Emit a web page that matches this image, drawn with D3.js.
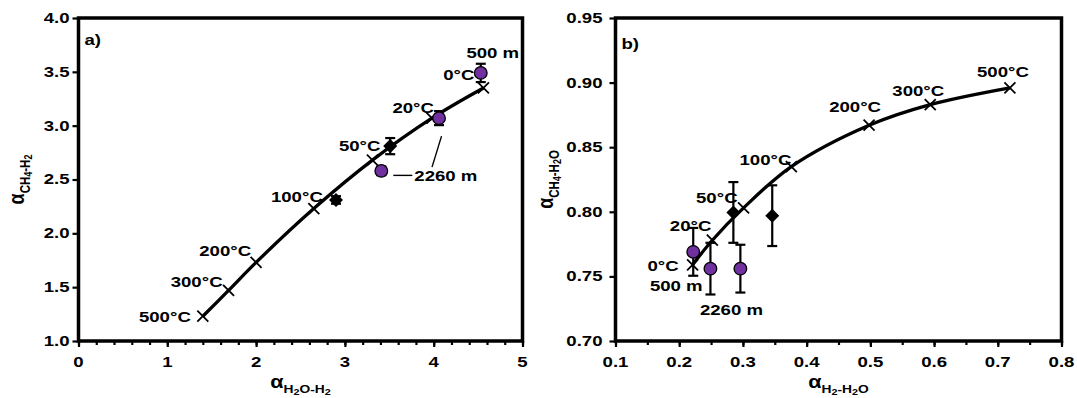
<!DOCTYPE html>
<html>
<head>
<meta charset="utf-8">
<script src="https://cdn.jsdelivr.net/npm/d3@7"></script>
<style>
  html, body { margin: 0; padding: 0; background: #fff; }
  svg text { font-family: "Liberation Sans", Arial, sans-serif; font-weight: bold; fill: #000; }
</style>
</head>
<body>
<svg id="chart" width="1077" height="398"></svg>
<script>
// ---------- DATA ----------
const temps = ["0°C", "20°C", "50°C", "100°C", "200°C", "300°C", "500°C"];

// Panel a) alpha(H2O-H2) vs alpha(CH4-H2) equilibrium curve
const curveA_x = [4.56, 3.98, 3.31, 2.65, 2.00, 1.69, 1.40];
const curveA_y = [3.35, 3.07, 2.68, 2.23, 1.73, 1.47, 1.23];
// measured samples (purple circles) and diamonds
const sampA_x = [4.53, 4.06, 3.41];
const sampA_y = [3.49, 3.07, 2.58];
const sampA_err = [0.085, 0.065, 0.04];
const diaA_x = [3.51, 2.90];
const diaA_y = [2.81, 2.31];
const diaA_err = [0.075, 0.035];
const xTicksA = [0, 1, 2, 3, 4, 5];
const yTicksA = [1.0, 1.5, 2.0, 2.5, 3.0, 3.5, 4.0];

// Panel b) alpha(H2-H2O) vs alpha(CH4-H2O)
const curveB_x = [0.221, 0.252, 0.301, 0.376, 0.498, 0.594, 0.719];
const curveB_y = [0.759, 0.778, 0.803, 0.835, 0.867, 0.883, 0.896];
const sampB_x = [0.222, 0.249, 0.296];
const sampB_y = [0.769, 0.756, 0.756];
const sampB_err = [0.0185, 0.020, 0.0185];
const diaB_x = [0.285, 0.346];
const diaB_y = [0.7995, 0.797];
const diaB_err = [0.0235, 0.0235];
const xTicksB = [0.1, 0.2, 0.3, 0.4, 0.5, 0.6, 0.7, 0.8];
const yTicksB = [0.70, 0.75, 0.80, 0.85, 0.90, 0.95];

// ---------- DRAWING ----------
const svg = d3.select("#chart");
const PURPLE = "#7030A0";
const FS = "15.5px";
const SX = 1.2; // horizontal text stretch seen in the reference

function txt(g, x, y, s, anchor, size) {
  return g.append("text")
    .attr("transform", `translate(${x},${y}) scale(${SX},1)`)
    .attr("text-anchor", anchor || "middle")
    .attr("dominant-baseline", "central")
    .style("font-size", size || FS)
    .text(s);
}

function panel(cfg) {
  const g = svg.append("g");
  const x = d3.scaleLinear().domain(cfg.xDomain).range([cfg.left, cfg.right]);
  const y = d3.scaleLinear().domain(cfg.yDomain).range([cfg.bottom, cfg.top]);

  const xAxis = d3.axisBottom(x).tickValues(cfg.xTicks).tickFormat("").tickSize(6).tickSizeOuter(0);
  const xMinor = d3.axisBottom(x).tickValues(cfg.xMinor).tickFormat("").tickSize(4).tickSizeOuter(0);
  const yAxis = d3.axisLeft(y).tickValues(cfg.yTicks).tickFormat("").tickSize(6).tickSizeOuter(0);

  const gxm = g.append("g").attr("transform", `translate(0,${cfg.bottom})`).call(xMinor);
  const gx = g.append("g").attr("transform", `translate(0,${cfg.bottom})`).call(xAxis);
  const gy = g.append("g").attr("transform", `translate(${cfg.left},0)`).call(yAxis);
  [gx, gy, gxm].forEach(a => {
    a.select(".domain").remove();
    a.selectAll(".tick line").attr("stroke", "#000").attr("stroke-width", 2.2);
  });
  // tick labels
  cfg.xTicks.forEach(v => txt(g, x(v), cfg.bottom + 21, cfg.xFmt(v), "middle"));
  cfg.yTicks.forEach(v => txt(g, cfg.left - cfg.yPad, y(v), cfg.yFmt(v), "end"));

  g.append("rect")
    .attr("x", cfg.left).attr("y", cfg.top)
    .attr("width", cfg.right - cfg.left).attr("height", cfg.bottom - cfg.top)
    .attr("fill", "none").attr("stroke", "#000").attr("stroke-width", 3.5);

  const pts = cfg.cx.map((v, i) => [x(v), y(cfg.cy[i])]);
  g.append("path")
    .attr("d", d3.line().curve(d3.curveCatmullRom.alpha(0.5))(pts))
    .attr("fill", "none").attr("stroke", "#000").attr("stroke-width", 3.3);

  const m = 5.5;
  pts.forEach(p => {
    g.append("path")
      .attr("d", `M${p[0]-m},${p[1]-m}L${p[0]+m},${p[1]+m}M${p[0]-m},${p[1]+m}L${p[0]+m},${p[1]-m}`)
      .attr("stroke", "#000").attr("stroke-width", 1.8).attr("fill", "none");
  });

  temps.forEach((t, i) => {
    const o = cfg.tOff[i];
    txt(g, pts[i][0] + o[0], pts[i][1] + o[1], t, o[2]);
  });

  function errBar(xv, yv, e) {
    const X = x(xv), y1 = y(yv - e), y2 = y(yv + e);
    g.append("line").attr("x1", X).attr("x2", X).attr("y1", y1).attr("y2", y2)
      .attr("stroke", "#000").attr("stroke-width", 2.2);
    [y1, y2].forEach(yy => g.append("line").attr("x1", X - 5).attr("x2", X + 5)
      .attr("y1", yy).attr("y2", yy).attr("stroke", "#000").attr("stroke-width", 2.2));
  }
  cfg.dx.forEach((v, i) => errBar(v, cfg.dy[i], cfg.de[i]));
  cfg.sx.forEach((v, i) => errBar(v, cfg.sy[i], cfg.se[i]));

  cfg.dx.forEach((v, i) => {
    g.append("path").attr("d", d3.symbol(d3.symbolDiamond2, 125)())
      .attr("transform", `translate(${x(v)},${y(cfg.dy[i])})`)
      .attr("fill", "#000");
  });
  cfg.sx.forEach((v, i) => {
    g.append("circle").attr("cx", x(v)).attr("cy", y(cfg.sy[i])).attr("r", 6.3)
      .attr("fill", PURPLE).attr("stroke", "#000").attr("stroke-width", 1.3);
  });

  txt(g, cfg.left + 6, cfg.tagY, cfg.tag, "start");

  // x axis title
  const xt = g.append("text")
    .attr("transform", `translate(${(cfg.left + cfg.right) / 2},${cfg.bottom + 47}) scale(${SX},1)`)
    .attr("text-anchor", "middle");
  cfg.xTitle.forEach(s => xt.append("tspan").attr("dy", s[2]).style("font-size", s[1]).text(s[0]));

  // y axis title
  const yt = g.append("text")
    .attr("transform", `translate(${cfg.yTitleX},${(cfg.top + cfg.bottom) / 2}) rotate(-90) scale(1,${SX})`)
    .attr("text-anchor", "middle");
  cfg.yTitle.forEach(s => yt.append("tspan").attr("dy", s[2]).style("font-size", s[1]).text(s[0]));

  return { g, x, y };
}

const minorA = d3.range(0, 26).map(i => i * 0.2);
const minorB = d3.range(0, 15).map(i => 0.1 + i * 0.05);

const A = panel({
  left: 78.5, right: 522.5, top: 18, bottom: 341,
  xDomain: [0, 5], yDomain: [1, 4],
  xTicks: xTicksA, yTicks: yTicksA, xMinor: minorA,
  xFmt: d3.format("d"), yFmt: d3.format(".1f"), yPad: 9,
  cx: curveA_x, cy: curveA_y,
  sx: sampA_x, sy: sampA_y, se: sampA_err,
  dx: diaA_x, dy: diaA_y, de: diaA_err,
  tOff: [[-9, -13, "end"], [2, -10, "end"], [8, -14, "end"], [9, -12, "end"], [-5, -11, "end"], [-6, -8, "end"], [-12, 1, "end"]],
  tag: "a)", tagY: 40,
  xTitle: [["α", "18px", 0], ["H", "11.5px", 5], ["2", "9px", 2], ["O-H", "11.5px", -2], ["2", "9px", 2]],
  yTitle: [["α", "18px", 0], ["CH", "11.5px", 5], ["4", "9px", 2], ["-H", "11.5px", -2], ["2", "9px", 2]],
  yTitleX: 24
});

const B = panel({
  left: 615.5, right: 1061.5, top: 18, bottom: 341,
  xDomain: [0.1, 0.8], yDomain: [0.7, 0.95],
  xTicks: xTicksB, yTicks: yTicksB, xMinor: minorB,
  xFmt: d3.format(".1f"), yFmt: d3.format(".2f"), yPad: 13,
  cx: curveB_x, cy: curveB_y,
  sx: sampB_x, sy: sampB_y, se: sampB_err,
  dx: diaB_x, dy: diaB_y, de: diaB_err,
  tOff: [[-14, 1, "end"], [-1, -14, "end"], [-6, -10, "end"], [0, -7, "end"], [-14, -18, "middle"], [-12, -14, "middle"], [-7, -16, "middle"]],
  tag: "b)", tagY: 44,
  xTitle: [["α", "18px", 0], ["H", "11.5px", 5], ["2", "9px", 2], ["-H", "11.5px", -2], ["2", "9px", 2], ["O", "11.5px", -2]],
  yTitle: [["α", "18px", 0], ["CH", "11.5px", 5], ["4", "9px", 2], ["-H", "11.5px", -2], ["2", "9px", 2], ["O", "11.5px", -2]],
  yTitleX: 553
});

// sample depth annotations (panel a)
const ga = A.g;
const c1 = [A.x(sampA_x[0]), A.y(sampA_y[0])];
const c2 = [A.x(sampA_x[1]), A.y(sampA_y[1])];
const c3 = [A.x(sampA_x[2]), A.y(sampA_y[2])];
txt(ga, c1[0] + 12, c1[1] - 20, "500 m", "middle");
txt(ga, c3[0] + 33, c3[1] + 5, "2260 m", "start");
ga.append("line").attr("x1", c3[0] + 12).attr("x2", c3[0] + 31)
  .attr("y1", c3[1] + 4.5).attr("y2", c3[1] + 4.5).attr("stroke", "#000").attr("stroke-width", 1.4);
ga.append("line").attr("x1", c2[0] + 2.5).attr("x2", c2[0] - 7)
  .attr("y1", c2[1] + 18).attr("y2", c2[1] + 49).attr("stroke", "#000").attr("stroke-width", 1.4);

// sample depth annotations (panel b)
const gb = B.g;
txt(gb, B.x(sampB_x[0]) - 17, B.y(sampB_y[0]) + 34, "500 m", "middle");
txt(gb, B.x(sampB_x[1]) + 21, B.y(sampB_y[1]) + 41, "2260 m", "middle");
</script>
</body>
</html>
